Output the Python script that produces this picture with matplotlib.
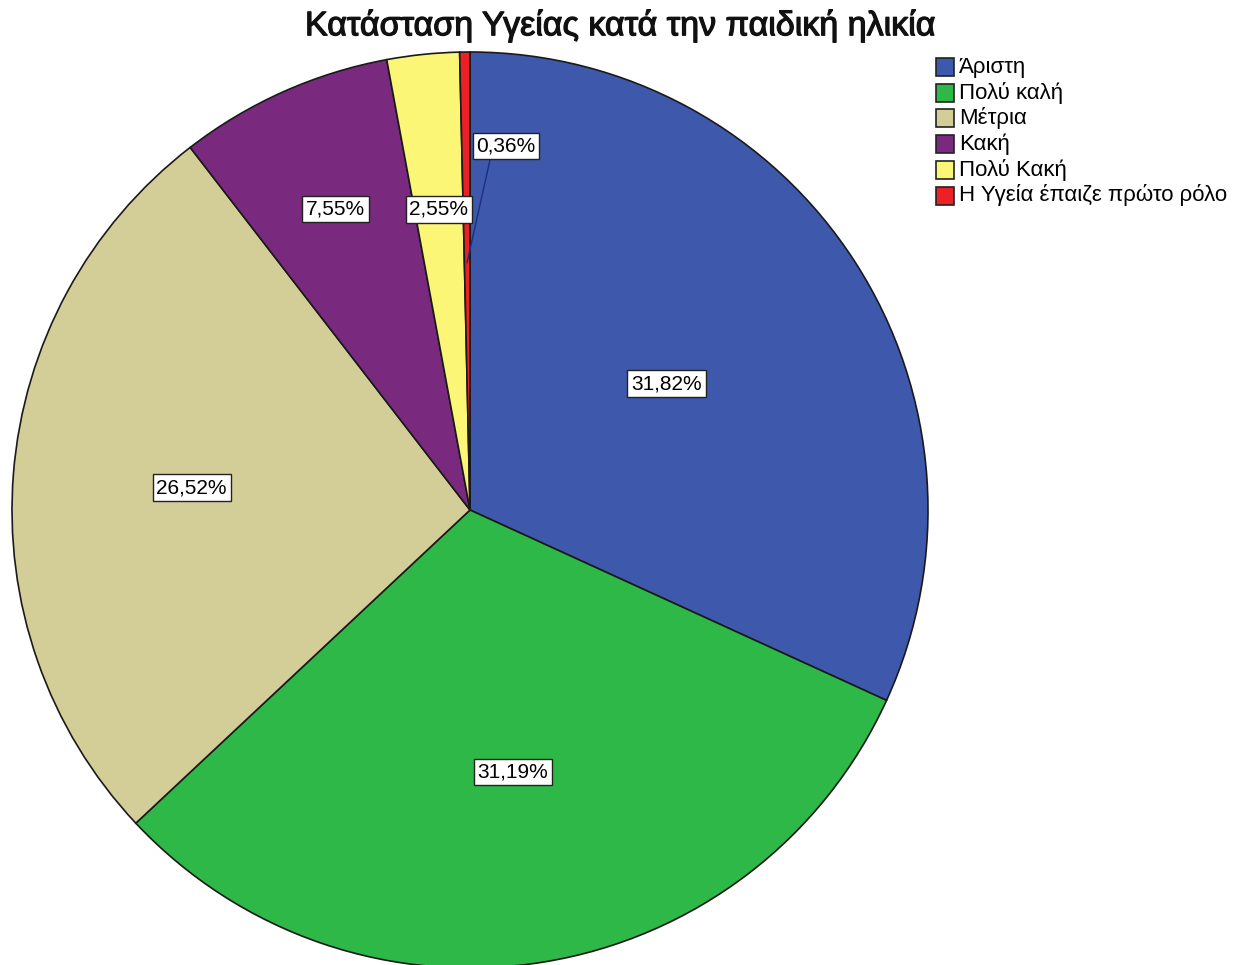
import numpy as np
import matplotlib.pyplot as plt
import matplotlib.patheffects as pe
from matplotlib.patches import Rectangle

plt.rcParams['font.family'] = ['Liberation Sans', 'DejaVu Sans']

categories = ["Άριστη", "Πολύ καλή", "Μέτρια", "Κακή", "Πολύ Κακή",
              "Η Υγεία έπαιζε πρώτο ρόλο"]
percentages = [31.82, 31.19, 26.52, 7.55, 2.55, 0.36]
colors = ["#3e58ac", "#2eb848", "#d3cd97", "#792a7e", "#fbf675", "#ec2027"]
title = "Κατάσταση Υγείας κατά την παιδική ηλικία"

W, H = 1246, 965
fig = plt.figure(figsize=(W / 100, H / 100), dpi=100)
ax = fig.add_axes([0, 0, 1, 1])

cx, cy, r = 470, H - 510, 458
wedges, _ = ax.pie(percentages, colors=colors, startangle=90, counterclock=False,
                   center=(cx, cy), radius=r, frame=True,
                   wedgeprops=dict(edgecolor="#1a1a1a", linewidth=1.2))
ax.set_xlim(0, W)
ax.set_ylim(0, H)
ax.set_aspect("equal")
ax.axis("off")

# label distance from centre as fraction of radius
label_frac = [0.51, 0.58, 0.61, 0.72, 0.66, None]

start = 90.0
for i, val in enumerate(percentages):
    mid = np.deg2rad(start - val * 3.6 / 2)
    start -= val * 3.6
    text = f"{val:.2f}%".replace(".", ",")
    box = dict(boxstyle="square,pad=0.18", fc="white", ec="#222222", lw=1)
    if label_frac[i] is None:
        # tiny slice: label pulled out with a leader line
        tip = (cx + 0.54 * r * np.cos(mid), cy + 0.54 * r * np.sin(mid))
        ax.plot([490, tip[0]], [H - 160, tip[1]], color="#1c2f80", lw=1, zorder=3)
        ax.text(506, H - 146, text, ha="center", va="center", fontsize=15,
                bbox=box, zorder=4)
    else:
        f = label_frac[i]
        ax.text(cx + f * r * np.cos(mid), cy + f * r * np.sin(mid), text,
                ha="center", va="center", fontsize=15, bbox=box, zorder=4)

# legend swatches and labels
for i, (name, c) in enumerate(zip(categories, colors)):
    y = H - (67 + i * 25.7)
    ax.add_patch(Rectangle((936, y - 9), 18, 18, fc=c, ec="#222222", lw=1.2))
    ax.text(959, y, name, ha="left", va="center", fontsize=16)

# medium-weight title: regular face with a thin outline
fig.text(620 / W, 1 - 26 / H, title, ha="center", va="center", fontsize=24.5,
         color="#111111",
         path_effects=[pe.Stroke(linewidth=0.9, foreground="#111111"), pe.Normal()])

fig.savefig("out.png", dpi=100)
